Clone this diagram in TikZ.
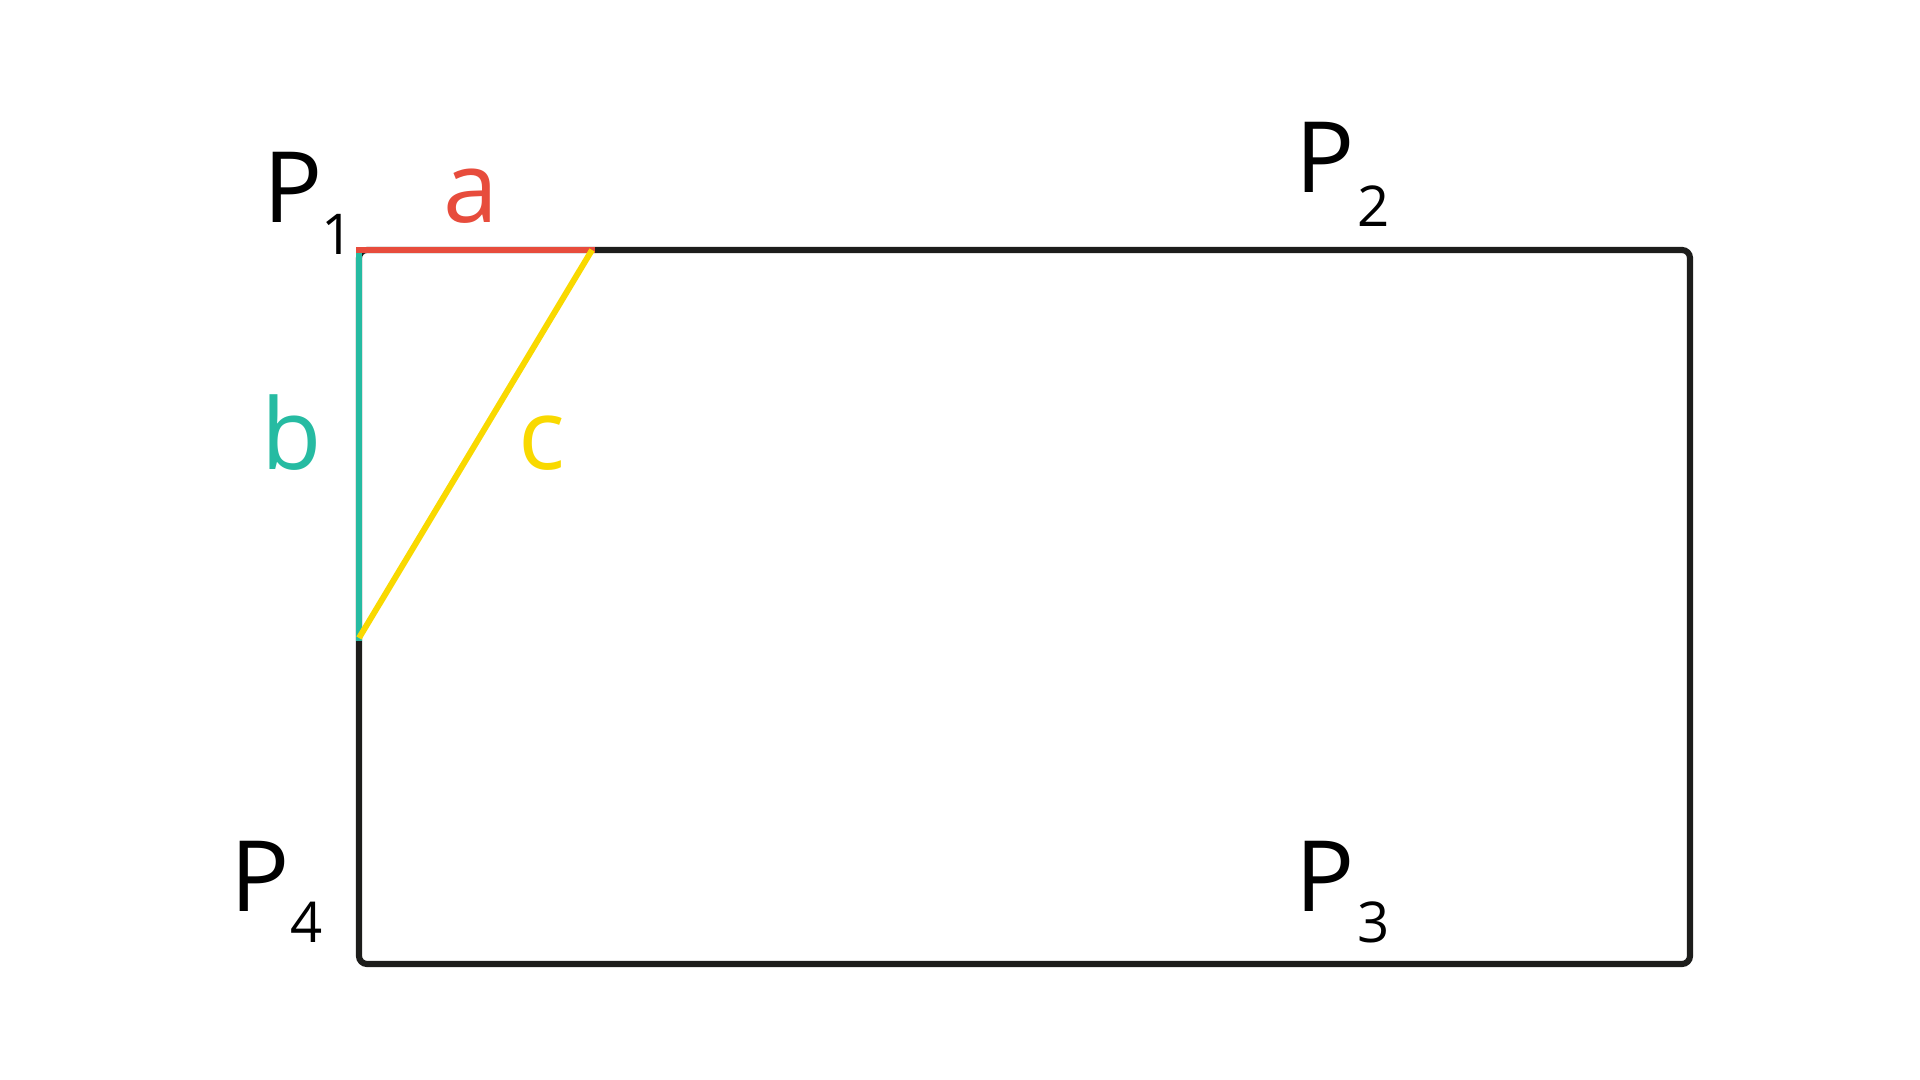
\documentclass[tikz,border=0pt]{standalone}
\usepackage{fontspec}
\setmainfont{Open Sans}
\usetikzlibrary{positioning}

\definecolor{frameblack}{HTML}{1D1D1B}
\definecolor{sidered}{HTML}{E74C3C}
\definecolor{sideteal}{HTML}{26BBA2}
\definecolor{sideyellow}{HTML}{F9D900}

\begin{document}
\begin{tikzpicture}[x=0.01cm,y=-0.01cm,line width=1.75pt,
                    big/.style={inner sep=0,font=\fontsize{28}{30}\selectfont,anchor=base},
                    idx/.style={inner sep=0,font=\fontsize{16}{18}\selectfont,anchor=base}]
  \tikzstyle{frame}=[draw=frameblack,rounded corners=0.08cm]
  \tikzstyle{side}=[line cap=rect,line width=1.7pt]

  \useasboundingbox (0,0) rectangle (1920,1080);

  \coordinate (P1) at (359,250);
  \coordinate (P2) at (1690,250);
  \coordinate (P3) at (1690,964);
  \coordinate (P4) at (359,964);
  \coordinate (A)  at (592,250);
  \coordinate (B)  at (359,638);

  \draw[frame] (P1) -- (P2) -- (P3) -- (P4) -- cycle;
  \draw[side,sideteal]   (P1) -- (B);
  \draw[side,sidered]    (P1) -- (A);
  \draw[sideyellow,line width=1.7pt] (A) -- (B);

  % corner labels
  \node[big] (p1) at (293,223)  {P};
  \node[idx] (i1) at (338,255)  {1};
  \node[big] (p2) at (1325,193) {P};
  \node[idx] (i2) at (1374,227) {2};
  \node[big] (p3) at (1325,912) {P};
  \node[idx] (i3) at (1374,943) {3};
  \node[big] (p4) at (260,912)  {P};
  \node[idx] (i4) at (307,943)  {4};

  % side labels
  \node[big,text=sidered]    (a) at (471,223) {a};
  \node[big,text=sideteal]   (b) at (292,470) {b};
  \node[big,text=sideyellow] (c) at (542,470) {c};
\end{tikzpicture}
\end{document}
